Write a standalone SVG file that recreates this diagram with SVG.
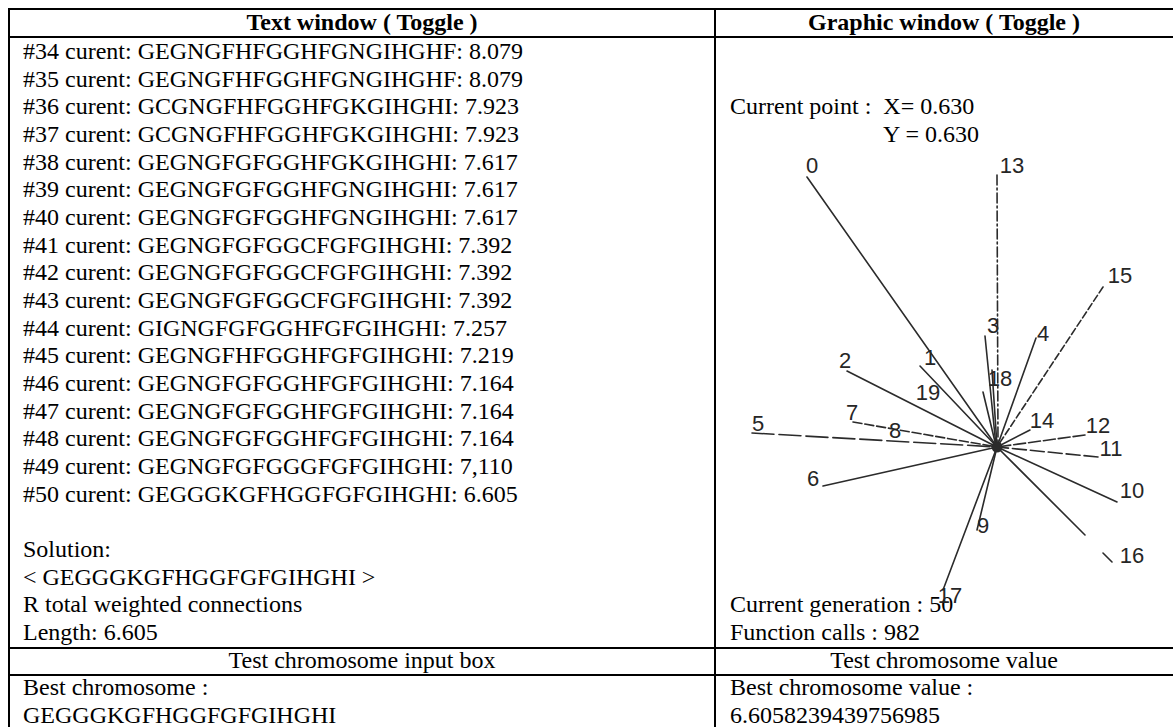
<svg xmlns="http://www.w3.org/2000/svg" width="1173" height="727" viewBox="0 0 1173 727">
<style>
  .t { font-family: "Liberation Serif", "Times New Roman", serif; font-size: 24px; fill: #000; }
  .h { font-family: "Liberation Serif", "Times New Roman", serif; font-size: 24px; font-weight: bold; fill: #000; text-anchor: middle; }
  .c { text-anchor: middle; }
  .grid line { stroke: #000; stroke-width: 2; }
  .lab { font-family: "Liberation Sans", Arial, sans-serif; font-size: 22px; fill: #262626; text-anchor: middle; }
  .con path { stroke: #2b2b2b; stroke-width: 1.6; fill: none; stroke-linecap: round; }
</style>
<rect x="0" y="0" width="1173" height="727" fill="#fff"/>
<g id="grid" class="grid">
  <line x1="9" y1="9" x2="1173" y2="9"/>
  <line x1="9" y1="37" x2="1173" y2="37"/>
  <line x1="9" y1="648" x2="1173" y2="648"/>
  <line x1="9" y1="675" x2="1173" y2="675"/>
  <line x1="9" y1="8" x2="9" y2="727"/>
  <line x1="715" y1="8" x2="715" y2="727"/>
</g>
<g id="headers">
  <text class="h" x="362" y="30">Text window ( Toggle )</text>
  <text class="h" x="944" y="30">Graphic window ( Toggle )</text>
</g>
<g id="text-window" class="t">
  <text class="t" x="23" y="59">#34 curent: GEGNGFHFGGHFGNGIHGHF: 8.079</text>
  <text class="t" x="23" y="86.7">#35 curent: GEGNGFHFGGHFGNGIHGHF: 8.079</text>
  <text class="t" x="23" y="114.3">#36 curent: GCGNGFHFGGHFGKGIHGHI: 7.923</text>
  <text class="t" x="23" y="142">#37 curent: GCGNGFHFGGHFGKGIHGHI: 7.923</text>
  <text class="t" x="23" y="169.7">#38 curent: GEGNGFGFGGHFGKGIHGHI: 7.617</text>
  <text class="t" x="23" y="197.4">#39 curent: GEGNGFGFGGHFGNGIHGHI: 7.617</text>
  <text class="t" x="23" y="225">#40 curent: GEGNGFGFGGHFGNGIHGHI: 7.617</text>
  <text class="t" x="23" y="252.7">#41 curent: GEGNGFGFGGCFGFGIHGHI: 7.392</text>
  <text class="t" x="23" y="280.4">#42 curent: GEGNGFGFGGCFGFGIHGHI: 7.392</text>
  <text class="t" x="23" y="308">#43 curent: GEGNGFGFGGCFGFGIHGHI: 7.392</text>
  <text class="t" x="23" y="335.7">#44 curent: GIGNGFGFGGHFGFGIHGHI: 7.257</text>
  <text class="t" x="23" y="363.4">#45 curent: GEGNGFHFGGHFGFGIHGHI: 7.219</text>
  <text class="t" x="23" y="391">#46 curent: GEGNGFGFGGHFGFGIHGHI: 7.164</text>
  <text class="t" x="23" y="418.7">#47 curent: GEGNGFGFGGHFGFGIHGHI: 7.164</text>
  <text class="t" x="23" y="446.4">#48 curent: GEGNGFGFGGHFGFGIHGHI: 7.164</text>
  <text class="t" x="23" y="474.1">#49 curent: GEGNGFGFGGGFGFGIHGHI: 7,110</text>
  <text class="t" x="23" y="501.7">#50 curent: GEGGGKGFHGGFGFGIHGHI: 6.605</text>
  <text class="t" x="23" y="557.1">Solution:</text>
  <text class="t" x="23" y="584.7">&lt; GEGGGKGFHGGFGFGIHGHI &gt;</text>
  <text class="t" x="23" y="612.4">R total weighted connections</text>
  <text class="t" x="23" y="640.1">Length: 6.605</text>
</g>
<g id="graphic-window-text">
  <text class="t" x="730" y="114.3" xml:space="preserve">Current point :  X= 0.630</text>
  <text class="t" x="883" y="142">Y = 0.630</text>
  <text class="t" x="730" y="612.4">Current generation : 50</text>
  <text class="t" x="730" y="640.1">Function calls : 982</text>
</g>
<g id="test-row">
  <text class="t c" x="362" y="667.7">Test chromosome input box</text>
  <text class="t c" x="944" y="667.7">Test chromosome value</text>
</g>
<g id="best-row">
  <text class="t" x="23" y="695.4">Best chromosome :</text>
  <text class="t" x="23" y="723.1">GEGGGKGFHGGFGFGIHGHI</text>
  <text class="t" x="730" y="695.4">Best chromosome value :</text>
  <text class="t" x="730" y="723.1">6.6058239439756985</text>
</g>
<g id="connectors" class="con">
  <path d="M807,177 L997,447"/>
  <path d="M997,175 L998,445" stroke-dasharray="10 3 2 3"/>
  <path d="M1103,287 L997,447" stroke-dasharray="7 3"/>
  <path d="M985,336 L996,446"/>
  <path d="M1036,338 L997,447"/>
  <path d="M847,371 L997,447"/>
  <path d="M920,366 L997,447"/>
  <path d="M983,392 L996,446"/>
  <path d="M992,370 L997,446"/>
  <path d="M853,422 L997,447" stroke-dasharray="9 3"/>
  <path d="M752,433 L997,447" stroke-dasharray="22 5"/>
  <path d="M823,486 L997,447"/>
  <path d="M1030,430 L997,447"/>
  <path d="M1085,435 L997,447" stroke-dasharray="12 3"/>
  <path d="M1098,457 L997,447" stroke-dasharray="14 4"/>
  <path d="M1117,502 L997,447"/>
  <path d="M997,447 L1085,535 M1103,553 L1112,562"/>
  <path d="M997,447 L977,530"/>
  <path d="M997,447 L943,590"/>
</g>
<g id="hub"><circle cx="997" cy="447" r="5.5" fill="#2b2b2b"/></g>
<g id="node-0"><text class="lab" x="812" y="173">0</text></g>
<g id="node-1"><text class="lab" x="930" y="365">1</text></g>
<g id="node-2"><text class="lab" x="845" y="368">2</text></g>
<g id="node-3"><text class="lab" x="993" y="333">3</text></g>
<g id="node-4"><text class="lab" x="1043" y="341">4</text></g>
<g id="node-5"><text class="lab" x="758" y="431">5</text></g>
<g id="node-6"><text class="lab" x="813" y="486">6</text></g>
<g id="node-7"><text class="lab" x="852" y="420">7</text></g>
<g id="node-8"><text class="lab" x="895" y="438">8</text></g>
<g id="node-9"><text class="lab" x="983" y="533">9</text></g>
<g id="node-10"><text class="lab" x="1132" y="498">10</text></g>
<g id="node-11"><text class="lab" x="1111" y="456">11</text></g>
<g id="node-12"><text class="lab" x="1098" y="433">12</text></g>
<g id="node-13"><text class="lab" x="1012" y="173">13</text></g>
<g id="node-14"><text class="lab" x="1042" y="428">14</text></g>
<g id="node-15"><text class="lab" x="1120" y="283">15</text></g>
<g id="node-16"><text class="lab" x="1132" y="563">16</text></g>
<g id="node-17"><text class="lab" x="950" y="603">17</text></g>
<g id="node-18"><text class="lab" x="1000" y="386">18</text></g>
<g id="node-19"><text class="lab" x="928" y="400">19</text></g>
</svg>
